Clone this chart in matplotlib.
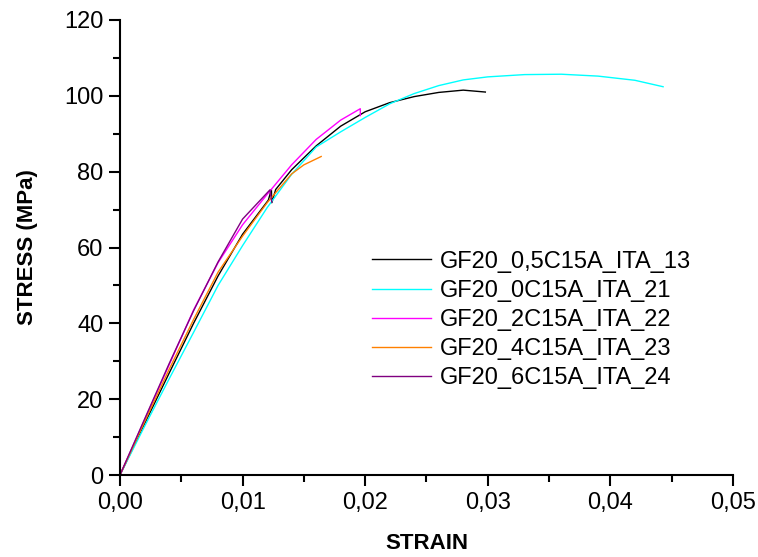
import matplotlib
matplotlib.use("Agg")
import matplotlib.pyplot as plt
from matplotlib.ticker import MultipleLocator, FuncFormatter

plt.rcParams['font.family'] = ['Liberation Sans', 'DejaVu Sans']

# strain / stress curves
labels = ["GF20_0,5C15A_ITA_13", "GF20_0C15A_ITA_21", "GF20_2C15A_ITA_22",
          "GF20_4C15A_ITA_23", "GF20_6C15A_ITA_24"]
colors = ["#000000", "#00FFFF", "#FF00FF", "#FF8000", "#800080"]

strain_13 = [0, 0.002, 0.004, 0.006, 0.008, 0.010, 0.0121, 0.01235, 0.01238, 0.0127,
             0.014, 0.016, 0.018, 0.020, 0.022, 0.024, 0.026, 0.028, 0.0298]
stress_13 = [0, 13.5, 26.8, 40.0, 52.5, 63.5, 72.5, 75.3, 71.8, 75.3,
             80.5, 86.8, 92.0, 95.8, 98.2, 99.8, 100.9, 101.5, 101.0]

strain_21 = [0, 0.002, 0.004, 0.006, 0.008, 0.010, 0.012, 0.014, 0.016, 0.018, 0.020,
             0.022, 0.024, 0.026, 0.028, 0.030, 0.033, 0.036, 0.039, 0.042, 0.0443]
stress_21 = [0, 12.8, 25.3, 37.6, 50.0, 60.5, 70.5, 79.3, 86.5, 90.5, 94.3,
             97.9, 100.6, 102.7, 104.2, 105.0, 105.6, 105.7, 105.2, 104.1, 102.4]

strain_22 = [0, 0.002, 0.004, 0.006, 0.008, 0.010, 0.012, 0.014, 0.016, 0.018, 0.0196, 0.0196]
stress_22 = [0, 14.5, 29.0, 43.5, 56.0, 66.0, 74.0, 81.8, 88.5, 93.6, 96.6, 94.8]

strain_23 = [0, 0.002, 0.004, 0.006, 0.008, 0.010, 0.012, 0.014, 0.015, 0.01641]
stress_23 = [0, 14.0, 27.8, 41.0, 53.5, 63.0, 71.8, 79.4, 81.8, 84.0]

strain_24 = [0, 0.002, 0.004, 0.006, 0.008, 0.010, 0.01223, 0.01238]
stress_24 = [0, 14.7, 29.3, 43.3, 56.2, 67.5, 75.2, 72.0]

series = [(strain_13, stress_13), (strain_21, stress_21), (strain_22, stress_22),
          (strain_23, stress_23), (strain_24, stress_24)]

fig = plt.figure(figsize=(7.58, 5.57), dpi=100)
ax = fig.add_axes([0.1583, 0.1472, 0.8087, 0.8169])

for (x, y), c, lab in zip(series, colors, labels):
    ax.plot(x, y, color=c, lw=1.0, label=lab)

ax.set_xlim(0, 0.05)
ax.set_ylim(0, 120)
ax.xaxis.set_major_locator(MultipleLocator(0.01))
ax.xaxis.set_minor_locator(MultipleLocator(0.005))
ax.yaxis.set_major_locator(MultipleLocator(20))
ax.yaxis.set_minor_locator(MultipleLocator(10))
ax.xaxis.set_major_formatter(FuncFormatter(lambda v, p: f"{v:.2f}".replace(".", ",")))
ax.yaxis.set_major_formatter(FuncFormatter(lambda v, p: f"{v:.0f}"))

for s in ["top", "right"]:
    ax.spines[s].set_visible(False)
for s in ["left", "bottom"]:
    ax.spines[s].set_linewidth(1.5)
ax.tick_params(which="major", direction="out", length=8, width=1.5, labelsize=17, pad=4)
ax.tick_params(which="minor", direction="out", length=5, width=1.5)

ax.set_xlabel("STRAIN", fontsize=16, fontweight="bold", labelpad=14)
ax.set_ylabel("STRESS (MPa)", fontsize=16, fontweight="bold", labelpad=19)

ax.legend(loc="center", bbox_to_anchor=(0.671, 0.341), frameon=False, fontsize=17,
          handlelength=2.5, handletextpad=0.4, labelspacing=0.3)

fig.savefig("out.png", dpi=100)
